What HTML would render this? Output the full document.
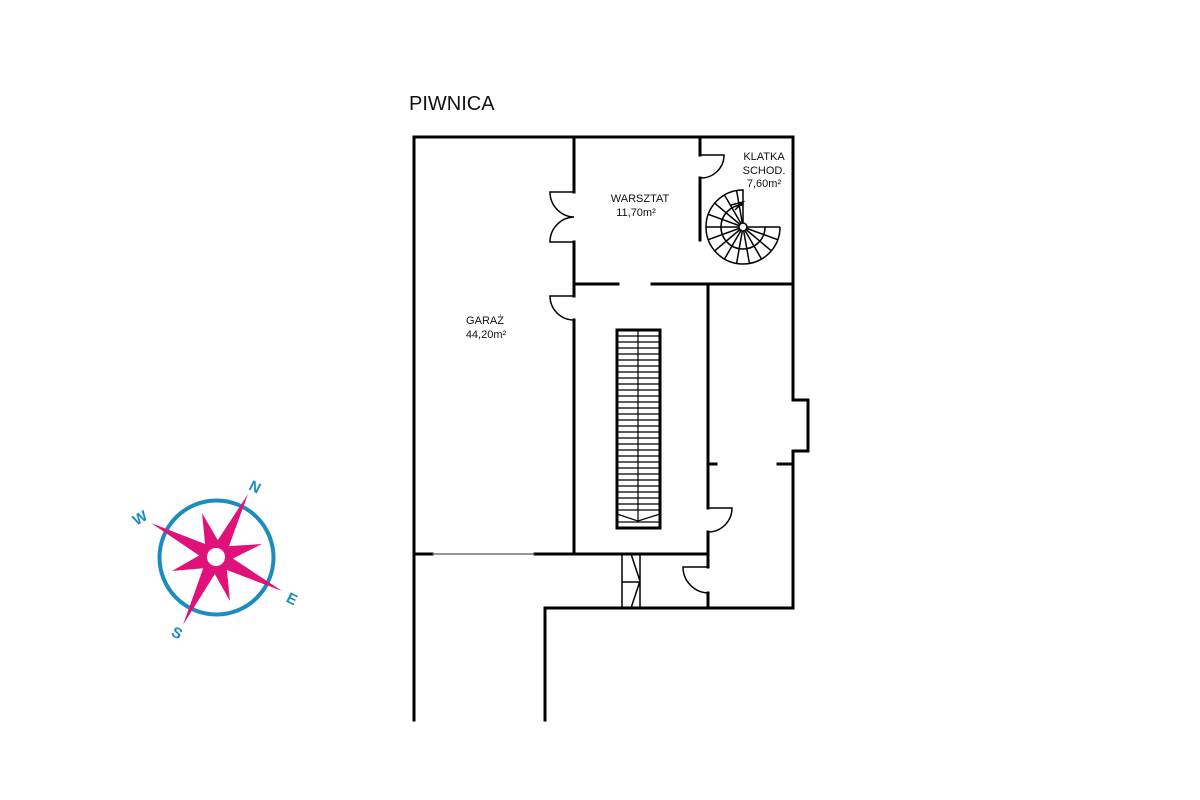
<!DOCTYPE html>
<html><head><meta charset="utf-8"><style>
html,body{margin:0;padding:0;background:#fff;}
svg{display:block;}
text{font-family:"Liberation Sans",sans-serif;}
</style></head><body>
<svg width="1200" height="800" viewBox="0 0 1200 800" xmlns="http://www.w3.org/2000/svg">
<rect width="1200" height="800" fill="#fff"/>
<text x="409" y="110" font-size="20" fill="#111">PIWNICA</text>
<g stroke="#000" stroke-width="3" fill="none" stroke-linecap="square">
<path d="M414,720 V137 H793 V400 H808 V451 H793 V608 H545 V720"/>
<path d="M574,137 V192 M574,242 V296 M574,320 V554"/>
<path d="M414,554 H432 M535,554 H708"/>
<path d="M574,284 H618 M652,284 H793"/>
<path d="M708,284 V508 M708,532 V567 M708,593 V608"/>
<path d="M700,137 V155 M700,178 V240"/>
<path d="M708,464 H716 M778,464 H793"/>
</g>
<line x1="432" y1="554" x2="535" y2="554" stroke="#555" stroke-width="1.2"/>
<g stroke="#000" stroke-width="1.5" fill="none">
<path d="M574,192 H550 A25,25 0 0 0 574,217 A25,25 0 0 0 550,242 H574"/>
<path d="M574,296 H550 A24,24 0 0 0 574,320"/>
<path d="M700,155 H724 A23,23 0 0 1 700,178"/>
<path d="M708,508 H732 A24,24 0 0 1 708,532"/>
<path d="M708,567 H683 A26,26 0 0 0 708,593"/>
<path d="M622,554 V608 M640,554 V608 M622,582 H640 M631,554 L640,581 L631,608"/>
<path d="M780,227 A37,37 0 1 1 743,190 V227"/>
<path d="M765,227 A22,22 0 1 1 743,205"/>
<path d="M743,227 L780,227 M743,227 L777.8,239.7 M743,227 L771.3,250.8 M743,227 L761.5,259 M743,227 L749.4,263.4 M743,227 L736.6,263.4 M743,227 L724.5,259 M743,227 L714.7,250.8 M743,227 L708.2,239.7 M743,227 L706,227 M743,227 L708.2,214.3 M743,227 L714.7,203.2 M743,227 L724.5,195 M743,227 L736.6,190.6"/>
<path d="M731,205 L743,202 L735,210"/>
</g>
<circle cx="743" cy="227" r="4" fill="#fff" stroke="#000" stroke-width="1.5"/>
<rect x="617" y="330" width="43" height="198" fill="none" stroke="#000" stroke-width="3"/>
<g stroke="#000" stroke-width="1.2">
<line x1="638" y1="330" x2="638" y2="521"/>
<line x1="617" y1="336" x2="660" y2="336"/><line x1="617" y1="342" x2="660" y2="342"/><line x1="617" y1="348" x2="660" y2="348"/><line x1="617" y1="354" x2="660" y2="354"/><line x1="617" y1="360" x2="660" y2="360"/><line x1="617" y1="366" x2="660" y2="366"/><line x1="617" y1="372" x2="660" y2="372"/><line x1="617" y1="378" x2="660" y2="378"/><line x1="617" y1="384" x2="660" y2="384"/><line x1="617" y1="390" x2="660" y2="390"/><line x1="617" y1="396" x2="660" y2="396"/><line x1="617" y1="402" x2="660" y2="402"/><line x1="617" y1="408" x2="660" y2="408"/><line x1="617" y1="414" x2="660" y2="414"/><line x1="617" y1="420" x2="660" y2="420"/><line x1="617" y1="426" x2="660" y2="426"/><line x1="617" y1="432" x2="660" y2="432"/><line x1="617" y1="438" x2="660" y2="438"/><line x1="617" y1="444" x2="660" y2="444"/><line x1="617" y1="450" x2="660" y2="450"/><line x1="617" y1="456" x2="660" y2="456"/><line x1="617" y1="462" x2="660" y2="462"/><line x1="617" y1="468" x2="660" y2="468"/><line x1="617" y1="474" x2="660" y2="474"/><line x1="617" y1="480" x2="660" y2="480"/><line x1="617" y1="486" x2="660" y2="486"/><line x1="617" y1="492" x2="660" y2="492"/><line x1="617" y1="498" x2="660" y2="498"/><line x1="617" y1="504" x2="660" y2="504"/><line x1="617" y1="510" x2="660" y2="510"/><line x1="617" y1="522" x2="660" y2="522"/>
<path d="M617,514 L638,521 L660,514" fill="none"/>
</g>
<g font-size="11" fill="#111" text-anchor="middle">
<text x="640" y="202">WARSZTAT</text>
<text x="636" y="216">11,70m²</text>
<text x="764" y="160">KLATKA</text>
<text x="764" y="174">SCHOD.</text>
<text x="764" y="187">7,60m²</text>
<text x="485" y="324">GARAŻ</text>
<text x="486" y="338">44,20m²</text>
</g>
<circle cx="216.5" cy="557.5" r="57" fill="none" stroke="#1a8cc0" stroke-width="4"/>
<polygon fill="#e0127a" points="248,494 229,546.1 262,544 232.9,558.5 282,591 226.9,570 230,601 214.8,574 183,625 203.2,568.2 172,571 199.1,555.5 151,523 205.1,544 202,513 217.8,540.1"/>
<circle cx="216" cy="557" r="9" fill="#fff"/>
<g fill="#1a8cc0" font-size="15" font-weight="bold" text-anchor="middle">
<text x="255" y="492" transform="rotate(27 255 487)">N</text>
<text x="140" y="523" transform="rotate(-30 140 518)">W</text>
<text x="292" y="604" transform="rotate(27 292 599)">E</text>
<text x="177" y="638" transform="rotate(27 177 633)">S</text>
</g>
</svg>
</body></html>
